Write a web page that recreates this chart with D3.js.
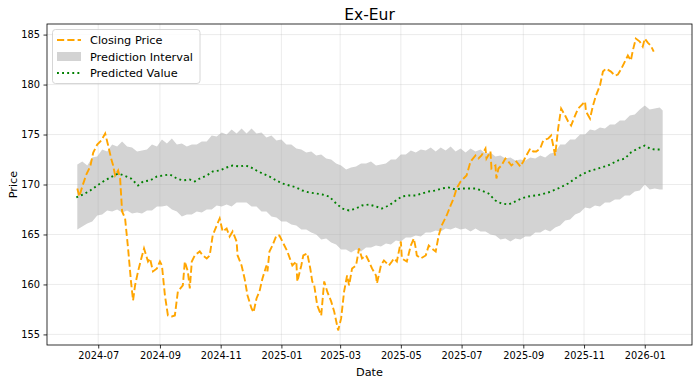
<!DOCTYPE html>
<html>
<head>
<meta charset="utf-8">
<script src="https://cdn.jsdelivr.net/npm/d3@7"></script>
<style>
  body { margin: 0; background: #fff; }
  text { font-family: "DejaVu Sans", sans-serif; }
</style>
</head>
<body>
<div id="chart"></div>
<script>
// closing price
var closeDates = [
  "2024-06-10","2024-06-12","2024-06-15","2024-06-19","2024-06-23","2024-06-26","2024-06-30","2024-07-04","2024-07-08","2024-07-11",
  "2024-07-14","2024-07-16","2024-07-18","2024-07-21","2024-07-23","2024-07-25","2024-07-28","2024-07-31","2024-08-03","2024-08-05",
  "2024-08-07","2024-08-10","2024-08-13","2024-08-16","2024-08-20","2024-08-22","2024-08-25","2024-08-29","2024-09-01","2024-09-03",
  "2024-09-06","2024-09-09","2024-09-13","2024-09-16","2024-09-19","2024-09-24","2024-09-26","2024-09-29","2024-10-01","2024-10-03",
  "2024-10-06","2024-10-11","2024-10-14","2024-10-18","2024-10-21","2024-10-24","2024-10-28","2024-10-31","2024-11-03","2024-11-07",
  "2024-11-10","2024-11-13","2024-11-17","2024-11-18","2024-11-22","2024-11-25","2024-11-28","2024-12-02","2024-12-04","2024-12-07",
  "2024-12-10","2024-12-13","2024-12-17","2024-12-18","2024-12-20","2024-12-23","2024-12-27","2024-12-30","2025-01-02","2025-01-07",
  "2025-01-12","2025-01-16","2025-01-17","2025-01-21","2025-01-23","2025-01-27","2025-01-30","2025-02-01","2025-02-03","2025-02-06",
  "2025-02-10","2025-02-13","2025-02-16","2025-02-20","2025-02-23","2025-02-27","2025-03-02","2025-03-05","2025-03-08","2025-03-10",
  "2025-03-13","2025-03-17","2025-03-20","2025-03-23","2025-03-27","2025-03-30","2025-04-02","2025-04-06","2025-04-07","2025-04-11",
  "2025-04-14","2025-04-19","2025-04-22","2025-04-24","2025-04-27","2025-05-01","2025-05-02","2025-05-07","2025-05-11","2025-05-14",
  "2025-05-16","2025-05-17","2025-05-21","2025-05-26","2025-05-29","2025-06-01","2025-06-05","2025-06-08","2025-06-11","2025-06-16",
  "2025-06-20","2025-06-23","2025-06-26","2025-06-30","2025-07-03","2025-07-06","2025-07-10","2025-07-15","2025-07-18","2025-07-21",
  "2025-07-25","2025-07-26","2025-07-30","2025-07-31","2025-08-04","2025-08-05","2025-08-07","2025-08-10","2025-08-14","2025-08-17",
  "2025-08-20","2025-08-25","2025-08-29","2025-09-01","2025-09-04","2025-09-08","2025-09-11","2025-09-14","2025-09-18","2025-09-21",
  "2025-09-26","2025-09-29","2025-10-03","2025-10-06","2025-10-09","2025-10-13","2025-10-16","2025-10-19","2025-10-23","2025-10-26",
  "2025-10-29","2025-11-02","2025-11-03","2025-11-07","2025-11-10","2025-11-13","2025-11-17","2025-11-20","2025-11-23","2025-11-28",
  "2025-12-02","2025-12-05","2025-12-08","2025-12-12","2025-12-15","2025-12-18","2025-12-20","2025-12-23","2025-12-27","2025-12-30",
  "2026-01-01","2026-01-04","2026-01-07","2026-01-10"
];
var closeValues = [
  169.6,168.8,169.8,171.0,171.8,173.2,174.0,174.4,175.1,173.9,
  172.6,171.9,170.9,171.4,170.6,167.3,166.6,163.6,160.2,158.4,
  159.9,161.3,162.5,163.6,162.3,162.6,161.3,161.6,162.3,161.9,
  158.9,156.9,156.8,156.9,159.3,159.9,162.3,161.3,159.6,162.3,
  162.9,163.3,162.9,162.6,162.9,164.9,165.9,166.6,165.3,165.6,
  164.8,165.3,164.3,162.9,161.9,160.6,158.9,157.6,157.2,158.6,
  159.3,160.6,161.9,161.3,163.3,163.9,164.9,164.9,164.3,163.3,
  161.9,162.3,160.3,161.9,162.9,163.1,161.6,160.3,159.9,157.9,
  156.9,160.3,159.3,158.3,157.3,155.4,156.6,159.3,160.9,159.9,
  161.6,161.9,163.6,162.6,162.9,162.3,161.6,160.9,160.1,161.9,
  162.4,161.9,162.3,162.6,162.3,164.3,162.6,162.3,163.9,164.6,
  163.6,162.9,162.6,162.9,163.9,163.6,163.3,164.9,165.9,166.9,
  167.9,168.6,169.6,170.3,170.6,170.9,172.3,172.9,172.6,172.9,
  173.6,172.6,173.3,171.6,171.9,170.6,171.6,171.9,172.6,172.3,
  171.9,172.3,171.8,172.3,172.9,173.6,173.3,173.3,173.6,174.4,
  174.6,174.9,172.9,175.6,177.6,176.9,176.3,175.9,176.9,177.6,
  177.9,178.3,177.3,176.6,177.9,178.9,179.9,181.3,181.6,181.3,
  180.9,181.0,181.5,182.3,182.9,182.4,183.4,184.6,184.3,183.8,
  184.6,184.2,183.9,183.3
];

// predicted value
var predDates = [
  "2024-06-09","2024-06-16","2024-06-23","2024-06-30","2024-07-06","2024-07-13","2024-07-21","2024-07-27","2024-08-03","2024-08-10",
  "2024-08-15","2024-08-22","2024-08-29","2024-09-04","2024-09-11","2024-09-18","2024-09-24","2024-10-01","2024-10-06","2024-10-11",
  "2024-10-18","2024-10-24","2024-10-31","2024-11-07","2024-11-13","2024-11-20","2024-11-25","2024-11-30","2024-12-07","2024-12-13",
  "2024-12-20","2024-12-27","2025-01-02","2025-01-09","2025-01-16","2025-01-22","2025-01-29","2025-02-05","2025-02-11","2025-02-18",
  "2025-02-25","2025-03-03","2025-03-10","2025-03-17","2025-03-23","2025-03-30","2025-04-06","2025-04-12","2025-04-19","2025-04-26",
  "2025-05-02","2025-05-09","2025-05-16","2025-05-22","2025-05-29","2025-06-05","2025-06-11","2025-06-18","2025-06-25","2025-07-01",
  "2025-07-08","2025-07-15","2025-07-21","2025-07-28","2025-08-04","2025-08-10","2025-08-17","2025-08-24","2025-08-30","2025-09-06",
  "2025-09-13","2025-09-19","2025-09-26","2025-10-06","2025-10-16","2025-10-26","2025-11-05","2025-11-15","2025-11-25","2025-12-05",
  "2025-12-12","2025-12-18","2025-12-25","2026-01-01","2026-01-06","2026-01-11","2026-01-18"
];
var predValues = [
  168.7,169.0,169.4,169.9,170.3,170.7,171.1,170.9,170.6,169.9,
  170.3,170.4,170.8,170.9,171.0,170.6,170.4,170.5,170.3,170.6,
  170.9,171.3,171.4,171.7,171.9,171.8,171.9,171.8,171.4,171.1,
  170.8,170.4,170.1,169.9,169.7,169.4,169.2,169.1,169.0,168.8,
  168.1,167.6,167.4,167.6,167.9,168.0,167.8,167.6,167.9,168.4,
  168.8,168.9,168.9,169.1,169.3,169.4,169.6,169.7,169.5,169.6,
  169.6,169.6,169.4,169.1,168.4,168.1,168.0,168.3,168.6,168.8,
  168.9,169.0,169.2,169.6,170.1,170.8,171.3,171.6,171.9,172.4,
  172.6,173.2,173.6,173.9,173.6,173.5,173.5
];

// prediction interval
var bandDates = [
  "2024-06-10","2024-06-15","2024-06-20","2024-06-25","2024-06-30","2024-07-05","2024-07-10","2024-07-15","2024-07-20","2024-07-25",
  "2024-07-30","2024-08-04","2024-08-09","2024-08-14","2024-08-19","2024-08-24","2024-08-29","2024-09-03","2024-09-08","2024-09-13",
  "2024-09-18","2024-09-23","2024-09-28","2024-10-03","2024-10-08","2024-10-13","2024-10-18","2024-10-23","2024-10-28","2024-11-02",
  "2024-11-07","2024-11-12","2024-11-17","2024-11-22","2024-11-27","2024-12-02","2024-12-07","2024-12-12","2024-12-17","2024-12-22",
  "2024-12-27","2025-01-01","2025-01-06","2025-01-11","2025-01-16","2025-01-21","2025-01-26","2025-01-31","2025-02-05","2025-02-10",
  "2025-02-15","2025-02-20","2025-02-25","2025-03-02","2025-03-07","2025-03-12","2025-03-17","2025-03-22","2025-03-27","2025-04-01",
  "2025-04-06","2025-04-11","2025-04-16","2025-04-21","2025-04-26","2025-05-01","2025-05-06","2025-05-11","2025-05-16","2025-05-21",
  "2025-05-26","2025-05-31","2025-06-05","2025-06-10","2025-06-15","2025-06-20","2025-06-25","2025-06-30","2025-07-05","2025-07-10",
  "2025-07-15","2025-07-20","2025-07-25","2025-07-30","2025-08-04","2025-08-09","2025-08-14","2025-08-19","2025-08-24","2025-08-29",
  "2025-09-03","2025-09-08","2025-09-13","2025-09-18","2025-09-23","2025-09-28","2025-10-03","2025-10-08","2025-10-13","2025-10-18",
  "2025-10-23","2025-10-28","2025-11-02","2025-11-07","2025-11-12","2025-11-17","2025-11-22","2025-11-27","2025-12-02","2025-12-07",
  "2025-12-12","2025-12-17","2025-12-22","2025-12-27","2026-01-01","2026-01-06","2026-01-11","2026-01-16","2026-01-19"
];
var bandUpper = [
  172.0,172.3,171.9,172.7,172.8,173.5,173.3,174.0,173.8,174.3,
  173.8,173.7,173.3,173.4,173.5,174.0,173.8,174.5,174.1,174.6,
  174.0,174.1,173.8,174.0,174.0,174.3,174.3,174.9,174.8,175.2,
  175.0,175.5,175.1,175.6,175.1,175.6,175.1,175.2,174.7,174.9,
  174.4,174.5,174.0,174.0,173.6,173.5,173.2,173.3,172.9,173.0,
  172.6,172.5,172.1,171.9,171.5,171.7,171.8,172.1,172.1,172.3,
  171.9,172.0,172.1,172.5,172.5,173.0,173.0,173.4,173.2,173.5,
  173.4,173.7,173.3,173.7,173.4,173.8,173.3,173.6,173.2,173.6,
  173.3,173.5,173.1,173.2,172.8,172.9,172.6,172.7,172.4,172.5,
  172.4,172.7,172.6,172.9,172.7,173.1,173.2,174.0,174.0,174.5,
  174.5,175.0,175.0,175.5,175.4,175.7,175.6,176.0,176.0,176.4,
  176.4,176.9,177.0,177.5,177.9,177.5,177.6,177.7,177.4
];
var bandLower = [
  165.5,165.8,166.1,166.3,166.9,167.0,167.4,167.3,167.5,167.2,
  167.4,167.1,167.2,167.1,167.4,167.4,167.8,167.8,167.9,167.5,
  167.3,166.8,167.0,167.0,167.3,167.2,167.5,167.5,167.9,167.8,
  168.0,167.8,168.2,168.2,168.2,167.8,167.8,167.3,167.3,166.8,
  166.7,166.3,166.3,166.0,165.9,165.5,165.5,165.2,165.0,164.5,
  164.6,164.2,164.0,163.5,163.5,163.2,163.5,163.3,163.7,163.7,
  163.9,163.8,164.1,164.0,164.4,164.3,164.7,164.7,164.9,164.8,
  165.2,165.2,165.4,165.3,165.6,165.5,165.7,165.5,165.6,165.3,
  165.6,165.3,165.3,165.0,164.9,164.5,164.6,164.3,164.6,164.5,
  164.8,164.8,165.2,165.2,165.5,165.3,165.7,165.9,166.4,166.5,
  167.0,167.2,167.7,167.6,167.9,167.8,168.2,168.2,168.5,168.5,
  168.9,168.9,169.3,169.4,170.0,169.5,169.6,169.5,169.5
];

var yTicks = [155, 160, 165, 170, 175, 180, 185];

var parse = d3.timeParse("%Y-%m-%d");
var closeData = closeDates.map(function(d, i) { return {date: parse(d), value: closeValues[i]}; });
var predData = predDates.map(function(d, i) { return {date: parse(d), value: predValues[i]}; });
var bandData = bandDates.map(function(d, i) { return {date: parse(d), lo: bandLower[i], hi: bandUpper[i]}; });

var W = 700, H = 383;
var margin = {top: 24, right: 8, bottom: 38, left: 47},
    width = W - margin.left - margin.right,
    height = H - margin.top - margin.bottom;

var svg = d3.select("#chart")
  .append("svg")
    .attr("width", W)
    .attr("height", H)
    .style("display", "block");

var g = svg.append("g")
    .attr("transform", "translate(" + margin.left + "," + margin.top + ")");

// matplotlib-like 5% padding on both axes
var allDates = closeData.concat(predData).concat(bandData).map(function(d) { return d.date; });
var xExt = d3.extent(allDates);
var xPad = (xExt[1] - xExt[0]) * 0.05;
var x = d3.scaleTime()
  .domain([new Date(+xExt[0] - xPad), new Date(+xExt[1] + xPad)])
  .range([0, width]);

var allVals = closeValues.concat(predValues, bandUpper, bandLower);
var yMin = d3.min(allVals), yMax = d3.max(allVals);
var yPad = (yMax - yMin) * 0.05;
var y = d3.scaleLinear()
  .domain([yMin - yPad, yMax + yPad])
  .range([height, 0]);

// prediction interval
g.append("path")
  .datum(bandData)
  .attr("fill", "#d3d3d3")
  .attr("d", d3.area()
    .x(function(d) { return x(d.date); })
    .y0(function(d) { return y(d.lo); })
    .y1(function(d) { return y(d.hi); }));

// grid
var xTicks = x.ticks(d3.timeMonth.every(2));
g.append("g").selectAll("line").data(xTicks).join("line")
  .attr("x1", function(d) { return x(d); }).attr("x2", function(d) { return x(d); })
  .attr("y1", 0).attr("y2", height)
  .attr("stroke", "#b0b0b0").attr("stroke-opacity", 0.3).attr("stroke-width", 0.8);
g.append("g").selectAll("line").data(yTicks).join("line")
  .attr("x1", 0).attr("x2", width)
  .attr("y1", function(d) { return y(d); }).attr("y2", function(d) { return y(d); })
  .attr("stroke", "#b0b0b0").attr("stroke-opacity", 0.3).attr("stroke-width", 0.8);

// closing price
g.append("path")
  .datum(closeData)
  .attr("fill", "none")
  .attr("stroke", "orange")
  .attr("stroke-width", 1.9)
  .attr("stroke-dasharray", "7.2,3.1")
  .attr("d", d3.line()
    .x(function(d) { return x(d.date); })
    .y(function(d) { return y(d.value); }));

// predicted value
g.append("path")
  .datum(predData)
  .attr("fill", "none")
  .attr("stroke", "green")
  .attr("stroke-width", 1.9)
  .attr("stroke-dasharray", "1.9,3.2")
  .attr("d", d3.line()
    .x(function(d) { return x(d.date); })
    .y(function(d) { return y(d.value); }));

// axes
var xAxis = g.append("g")
  .attr("transform", "translate(0," + height + ")")
  .call(d3.axisBottom(x).tickValues(xTicks).tickFormat(d3.timeFormat("%Y-%m")).tickSizeOuter(0).tickSize(3.5).tickPadding(3.5));
var yAxis = g.append("g")
  .call(d3.axisLeft(y).tickValues(yTicks).tickFormat(d3.format("d")).tickSizeOuter(0).tickSize(3.5).tickPadding(3.5));
[xAxis, yAxis].forEach(function(a) {
  a.select(".domain").remove();
  a.selectAll("line").attr("stroke", "#000").attr("stroke-width", 0.8);
  a.selectAll("text").attr("fill", "#000").style("font-size", "9.8px").style("font-family", "DejaVu Sans");
});

// frame
g.append("rect")
  .attr("width", width).attr("height", height)
  .attr("fill", "none").attr("stroke", "#000").attr("stroke-width", 0.8);

// titles
svg.append("text")
  .attr("x", margin.left + width / 2).attr("y", 20)
  .attr("text-anchor", "middle")
  .style("font-size", "15.5px")
  .text("Ex-Eur");
svg.append("text")
  .attr("x", margin.left + width / 2).attr("y", 376)
  .attr("text-anchor", "middle")
  .style("font-size", "11.3px")
  .text("Date");
svg.append("text")
  .attr("transform", "translate(17," + (margin.top + height / 2) + ") rotate(-90)")
  .attr("text-anchor", "middle")
  .style("font-size", "11.3px")
  .text("Price");

// legend
var leg = svg.append("g").attr("transform", "translate(52.5,29.5)");
leg.append("rect")
  .attr("width", 147.5).attr("height", 54)
  .attr("rx", 3)
  .attr("fill", "#fff").attr("fill-opacity", 0.8)
  .attr("stroke", "#cccccc").attr("stroke-width", 0.8);
var items = [
  {label: "Closing Price", kind: "dash"},
  {label: "Prediction Interval", kind: "patch"},
  {label: "Predicted Value", kind: "dot"}
];
items.forEach(function(it, i) {
  var cy = 10.5 + i * 16.5;
  if (it.kind === "patch") {
    leg.append("rect").attr("x", 4.5).attr("y", cy - 4.5).attr("width", 24).attr("height", 9)
      .attr("fill", "#d3d3d3");
  } else {
    leg.append("line").attr("x1", 4.5).attr("x2", 28.5).attr("y1", cy).attr("y2", cy)
      .attr("stroke", it.kind === "dash" ? "orange" : "green")
      .attr("stroke-width", 1.9)
      .attr("stroke-dasharray", it.kind === "dash" ? "7.2,3.1" : "1.9,3.2");
  }
  leg.append("text").attr("x", 37.5).attr("y", cy + 4)
    .style("font-size", "11.3px")
    .text(it.label);
});
</script>
</body>
</html>
